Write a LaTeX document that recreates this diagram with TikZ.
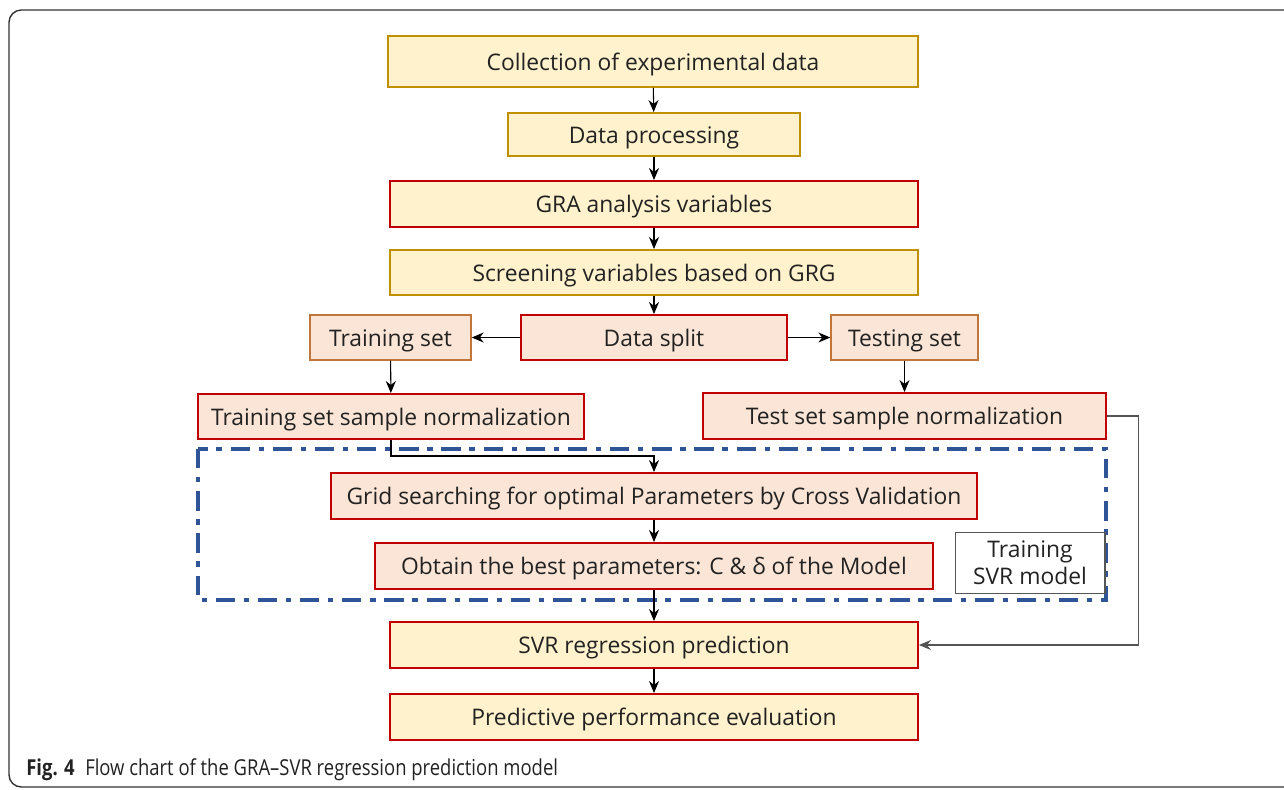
\documentclass[tikz,border=0pt]{standalone}
\usepackage{fontspec}
\setmainfont{Open Sans}
\newfontfamily\capfont[FakeStretch=0.84]{Open Sans}
\usetikzlibrary{arrows.meta, positioning}
\definecolor{cyellow}{HTML}{FFF2CC}
\definecolor{cpeach}{HTML}{FBE5D6}
\definecolor{cgold}{HTML}{BF9000}
\definecolor{cred}{HTML}{C00000}
\definecolor{cbrown}{HTML}{C0763A}
\definecolor{cnavy}{HTML}{2F5597}
\definecolor{cgrey}{HTML}{555555}
\definecolor{ctext}{HTML}{222222}
\tikzset{
  every picture/.style={font=\fontsize{13}{16}\selectfont, text=ctext},
  box/.style={draw=#1, line width=1.1pt, inner sep=0pt, minimum height=0.92cm,
    text height=1.0em, text depth=0pt},
  box/.default=cred,
  ybox/.style={box=#1, fill=cyellow},
  pbox/.style={box=#1, fill=cpeach},
  arrow/.style={-{Stealth[length=2.4mm, width=2mm]}, draw=black, line width=0.6pt},
  dashdot/.style={draw=cnavy, line width=2.8pt, dash pattern=on 11pt off 5pt on 3pt off 5pt},
}

\begin{document}
\begin{tikzpicture}[x=0.02cm, y=-0.02cm]
  \useasboundingbox (0,0) rectangle (1284,789);
  % frame round the figure
  \draw[line width=0.8pt, color=black!80, rounded corners=7pt] (1290,10) -- (9,10) -- (9,787) -- (1290,787);

  % main column
  \node[ybox=cgold, minimum width=10.6cm, minimum height=1.02cm] (coll) at (653,61.5) {Collection of experimental data};
  \node[ybox=cgold, minimum width=5.84cm, minimum height=0.86cm] (proc) at (654,134.5) {Data processing};
  \node[ybox] (gra) at (654,204) [minimum width=10.56cm] {GRA analysis variables};
  \node[ybox=cgold, minimum width=10.56cm, minimum height=0.9cm] (scr) at (654,272.5) {Screening variables based on GRG};
  \node[pbox, minimum width=5.32cm, minimum height=0.9cm] (split) at (654,337.5) {Data split};
  \node[pbox=cbrown, minimum width=3.22cm, minimum height=0.9cm, line width=0.8pt] (train) at (390.5,337.5) {Training set};
  \node[pbox=cbrown, minimum width=2.94cm, minimum height=0.9cm, line width=0.8pt] (test) at (904.5,337.5) {Testing set};
  \node[pbox, minimum width=7.72cm, minimum height=0.9cm] (trnorm) at (391,416.5) {Training set sample normalization};
  \node[pbox, minimum width=8.06cm] (tsnorm) at (904.5,416) {Test set sample normalization};

  % model training block
  \draw[dashdot] (198,449) rectangle (1106,600);
  \node[pbox, minimum width=12.92cm] (grid) at (654,496) {Grid searching for optimal Parameters by Cross Validation};
  \node[pbox, minimum width=11.16cm] (best) at (654,566) {Obtain the best parameters: C \& δ of the Model};
  \node[draw=cgrey, fill=white, line width=0.6pt, align=center, inner sep=0pt, minimum width=3.0cm, minimum height=1.22cm, font=\fontsize{13}{15.5}\selectfont] (svrm) at (1030,563) {Training\\SVR model};

  \node[ybox, minimum width=10.56cm] (svr) at (654,645) {SVR regression prediction};
  \node[ybox, minimum width=10.56cm] (eval) at (654,717) {Predictive performance evaluation};

  \coordinate (bend) at (654,456);
  \draw[arrow] (coll) -- (proc);
  \draw[arrow] (proc) -- (gra);
  \draw[arrow] (gra) -- (scr);
  \draw[arrow] (scr) -- (split);
  \draw[arrow] (split) -- (train);
  \draw[arrow] (split) -- (test);
  \draw[arrow] (train) -- (trnorm);
  \draw[arrow] (test) -- (tsnorm);
  \draw[arrow] (trnorm.south) |- (bend) -- (grid.north);
  \draw[arrow] (grid) -- (best);
  \draw[arrow] (best) -- (svr);
  \draw[arrow, draw=cgrey] (tsnorm.east) -- ++(32,0) |- (svr.east);
  \draw[arrow] (svr) -- (eval);

  \node[anchor=base west, inner sep=0pt, font=\capfont\fontsize{12.5}{15}\selectfont] (cap) at (26,775) {\textbf{Fig. 4}\hspace{6pt}Flow chart of the GRA–SVR regression prediction model};
\end{tikzpicture}
\end{document}
